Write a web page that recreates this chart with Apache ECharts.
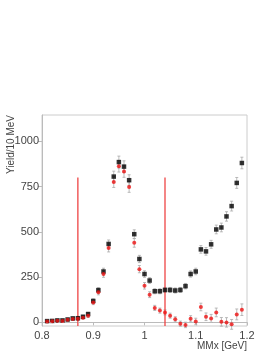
<!DOCTYPE html>
<html><head><meta charset="utf-8">
<script src="https://cdn.jsdelivr.net/npm/echarts@6/dist/echarts.min.js"></script>
<style>html,body{margin:0;padding:0;background:#fff}#c{width:274px;height:355px}</style>
</head><body><div id="c"></div>
<script>
var mmx = [0.81,0.82,0.83,0.84,0.85,0.86,0.87,0.88,0.89,0.90,0.91,0.92,0.93,0.94,0.95,0.96,0.97,0.98,0.99,1.00,1.01,1.02,1.03,1.04,1.05,1.06,1.07,1.08,1.09,1.10,1.11,1.12,1.13,1.14,1.15,1.16,1.17,1.18,1.19];
var yieldAll = [7,8,11,11,16,22,23,31,46,118,178,281,433,805,885,860,785,487,350,267,231,172,172,179,179,176,179,200,267,281,403,392,431,513,524,585,642,770,880];
var errAll = [4,4,5,5,6,7,7,8,9,12,14,18,22,30,33,32,30,24,20,18,16,14,14,14,14,14,14,15,17,18,21,21,22,24,24,26,27,30,32];
var yieldSub = [5,6,9,8,14,19,20,26,36,110,166,267,411,775,862,833,748,439,294,202,153,80,65,55,37,17,-7,-14,20,5,85,31,22,55,3,0,-11,44,70];
var errSub = [4,4,5,5,6,7,7,8,9,12,14,18,22,30,32,32,30,24,20,18,16,14,14,14,14,14,14,15,17,18,21,21,22,24,24,26,27,30,32];
var xTicks = [0.8,0.9,1.0,1.1,1.2];
var yTicks = [0,250,500,750,1000];
var cutLines = [0.87,1.04];
var cutTop = 800;

function pairs(xs, ys){ return xs.map(function(x,i){ return [x, ys[i]]; }); }
function errData(xs, ys, es){ return xs.map(function(x,i){ return [x, ys[i]-es[i], ys[i]+es[i]]; }); }
function errRender(params, api){
  var x = api.value(0);
  var lo = api.coord([x, api.value(1)]);
  var hi = api.coord([x, api.value(2)]);
  var w = 1.5;
  var st = {stroke:'#aaaaaa', lineWidth:0.8};
  return {type:'group', children:[
    {type:'line', shape:{x1:lo[0],y1:lo[1],x2:hi[0],y2:hi[1]}, style:st},
    {type:'line', shape:{x1:lo[0]-w,y1:lo[1],x2:lo[0]+w,y2:lo[1]}, style:st},
    {type:'line', shape:{x1:hi[0]-w,y1:hi[1],x2:hi[0]+w,y2:hi[1]}, style:st}
  ]};
}
var font = 'Liberation Sans, Arial, sans-serif';
var series = [
  {type:'custom', renderItem:errRender, data:errData(mmx,yieldAll,errAll), encode:{x:0,y:[1,2]}, z:2, silent:true},
  {type:'custom', renderItem:errRender, data:errData(mmx,yieldSub,errSub), encode:{x:0,y:[1,2]}, z:2, silent:true},
  {type:'scatter', data:pairs(mmx,yieldAll), symbol:'rect', symbolSize:4.5, itemStyle:{color:'#000'}, z:4,
   markLine:{silent:true, symbol:'none', label:{show:false}, lineStyle:{color:'#bbb', type:[2,2], width:0.8}, data:[{yAxis:0}]}},
  {type:'scatter', data:pairs(mmx,yieldSub), symbol:'circle', symbolSize:4, itemStyle:{color:'#ee1111'}, z:5}
];
cutLines.forEach(function(c){
  series.push({type:'line', data:[[c,-20],[c,cutTop]], symbol:'none', lineStyle:{color:'#ee4444', width:1.3}, z:3, silent:true});
});
var chart = echarts.init(document.getElementById('c'), null, {renderer:'canvas'});
chart.setOption({
  animation:false,
  backgroundColor:'#fff',
  grid:{left:42, right:27, top:115, bottom:29, show:true, borderColor:'#cccccc', borderWidth:1},
  xAxis:{type:'value', min:0.8, max:1.2,
    axisLine:{show:true, lineStyle:{color:'#bbbbbb'}},
    axisTick:{show:true, customValues:xTicks, length:3, lineStyle:{color:'#bbbbbb'}},
    axisLabel:{customValues:xTicks, color:'#444', fontSize:11, fontFamily:font, margin:4,
      formatter:function(v){ return String(Math.round(v*10)/10); }},
    splitLine:{show:false}},
  yAxis:{type:'value', min:-20, max:1145,
    axisLine:{show:true, lineStyle:{color:'#bbbbbb'}},
    axisTick:{show:true, customValues:yTicks, length:4, lineStyle:{color:'#bbbbbb'}},
    axisLabel:{customValues:yTicks, color:'#444', fontSize:11, fontFamily:font, margin:3,
      formatter:function(v){ return String(Math.round(v)); }},
    splitLine:{show:false}},
  graphic:[
    {type:'text', x:11, y:115, rotation:Math.PI/2, style:{text:'Yield/10 MeV', fill:'#444', font:'10px '+font, align:'right', verticalAlign:'middle'}},
    {type:'text', x:247, y:346, style:{text:'MMx [GeV]', fill:'#444', font:'10px '+font, align:'right', verticalAlign:'middle'}}
  ],
  series:series
});
</script></body></html>
